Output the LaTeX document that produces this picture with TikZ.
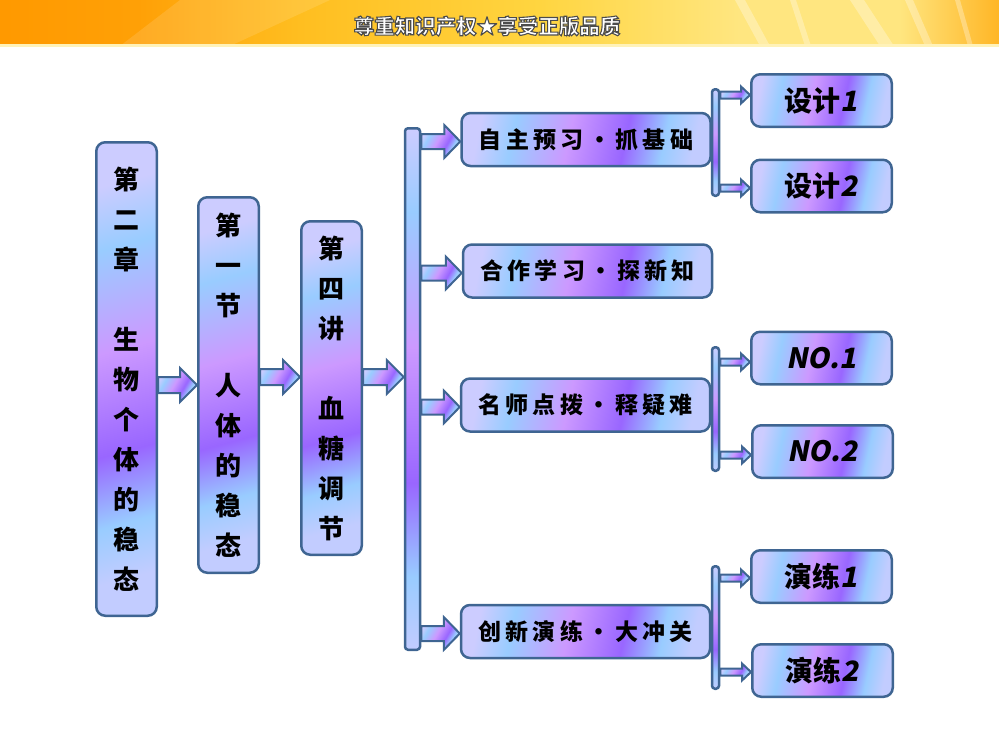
\documentclass[tikz,border=0pt]{standalone}
\usepackage{fontspec}
\usepackage{tikz}
\usetikzlibrary{calc}
\newfontfamily\cjk{Noto Sans CJK SC}
\newfontfamily\cjkwide{Noto Sans CJK SC}[LetterSpace=19]
\newfontfamily\cjkslant{Noto Sans CJK SC}[FakeSlant=0.2]
\definecolor{lav}{HTML}{CCCCFF}
\definecolor{skyb}{HTML}{99CCFF}
\definecolor{pinkv}{HTML}{CC99FF}
\definecolor{purp}{HTML}{9966FF}
\definecolor{edge}{HTML}{3F6592}
\definecolor{bannerA}{HTML}{FF9900}
\definecolor{bannerB}{HTML}{FFBE20}
\definecolor{bannerC}{HTML}{FFD540}
\definecolor{bannerD}{HTML}{FFE680}
\definecolor{bannerE}{HTML}{FFB626}
\definecolor{bannerline}{HTML}{FFF2B8}
\pgfdeclarehorizontalshading{boxshade}{100bp}{color(0bp)=(lav); color(25bp)=(lav); color(33bp)=(skyb); color(46bp)=(pinkv); color(59bp)=(purp); color(68bp)=(skyb); color(75bp)=(lav!80!skyb); color(100bp)=(lav!80!skyb)}
\pgfdeclarehorizontalshading{bannershade}{100bp}{color(0bp)=(bannerA); color(25bp)=(bannerA); color(32bp)=(bannerA!80!bannerB); color(40bp)=(bannerB); color(52bp)=(bannerC); color(62bp)=(bannerD); color(70bp)=(bannerD); color(75bp)=(bannerE); color(100bp)=(bannerE)}
% outlined text (fill + stroke)
\newcommand\outlined[1]{\special{pdf:literal direct 2 Tr 1.1 w 0.3 G}#1\special{pdf:literal direct 0 Tr}}

\tikzset{
  panel/.style={draw=edge, line width=2.5pt, rounded corners=9pt, shade, shading=boxshade, shading angle=-75, inner sep=0pt},
  tallbox/.style={panel, minimum width=60.5pt, align=center, font=\cjk\bfseries\fontsize{26}{40}\selectfont},
  midbox/.style={panel, shading angle=-12, minimum width=249pt, minimum height=53pt, font=\cjkwide\bfseries\fontsize{23}{25}\selectfont},
  leafbox/.style={panel, shading angle=-12, minimum width=140.5pt, minimum height=52.5pt, font=\cjk\bfseries\fontsize{28}{30}\selectfont},
  railbar/.style={draw=edge, line width=2.5pt, rounded corners=3pt, shade, shading=boxshade, shading angle=-90, inner sep=0pt},
  blockarr/.style={draw=edge, line width=2pt, shade, shading=boxshade, shading angle=-30, line join=miter},
}
% block arrow: start, end, half shaft, half head, head length
\newcommand\blockarrow[5]{%
  \path[blockarr] let \p1=#1, \p2=#2 in
    (\x1,\y1+#3) -- (\x2-#5,\y1+#3) -- (\x2-#5,\y1+#4) -- (\x2,\y1)
    -- (\x2-#5,\y1-#4) -- (\x2-#5,\y1-#3) -- (\x1,\y1-#3) -- cycle;}

\begin{document}
\begin{tikzpicture}[x=1pt,y=-1pt]
  \useasboundingbox (0,0) rectangle (999,750);
  % banner
  \shade[shading=bannershade] (0,0) rectangle (999,46);
  \fill[white,opacity=0.12] (180,0) -- (330,0) -- (230,46) -- (120,46) -- cycle;
  \foreach \a/\w/\b in {735/10/760, 790/6/805, 850/14/880, 905/8/925, 955/5/968}
    \fill[white,opacity=0.3] (\a,0) -- (\a+\w,0) -- (\b+\w,46) -- (\b,46) -- cycle;
  \fill[bannerline] (0,44) rectangle (999,47);
  \node[text=white, font=\cjk\bfseries\fontsize{20.5}{22}\selectfont] (banner) at (487,26)
    {\outlined{尊重知识产权★享受正版品质}};

  % chapter, section, lecture
  \node[tallbox, minimum height=473.5pt] (ch) at (126.5,379)
    {第\\二\\章\\[40pt]生\\物\\个\\体\\的\\稳\\态};
  \node[tallbox, minimum height=375.5pt] (sec) at (228.5,385)
    {第\\一\\节\\[40pt]人\\体\\的\\稳\\态};
  \node[tallbox, minimum height=333.5pt] (lec) at (331.5,388)
    {第\\四\\讲\\[40pt]血\\糖\\调\\节};
  \node[railbar, minimum width=15pt, minimum height=521.5pt] (spine) at (412.5,389) {};

  % parts
  \node[midbox] (mA) at (586,139.5) {自主预习・抓基础};
  \node[midbox] (mB) at (587.5,271) {合作学习・探新知};
  \node[midbox] (mC) at (585.5,405) {名师点拨・释疑难};
  \node[midbox] (mD) at (585.5,631.5) {创新演练・大冲关};
  \node[railbar, minimum width=7pt, minimum height=106.5pt] (tA) at (715.5,142.5) {};
  \node[railbar, minimum width=7pt, minimum height=123.5pt] (tC) at (715.5,409) {};
  \node[railbar, minimum width=7pt, minimum height=122.5pt] (tD) at (715.5,627.5) {};

  % leaves
  \node[leafbox] (l1) at (821.5,100.5) {设计{\cjkslant\bfseries 1}};
  \node[leafbox] (l2) at (821.5,186) {设计{\cjkslant\bfseries 2}};
  \node[leafbox] (l3) at (821.5,358) {\cjkslant\bfseries NO.1};
  \node[leafbox] (l4) at (822.5,451.5) {\cjkslant\bfseries NO.2};
  \node[leafbox] (l5) at (821.5,576.5) {演练{\cjkslant\bfseries 1}};
  \node[leafbox] (l6) at (822.5,670.5) {演练{\cjkslant\bfseries 2}};

  % arrows
  \blockarrow{([yshift=-6pt]ch.east)}{(sec.west)}{8pt}{17pt}{17pt}
  \blockarrow{([yshift=8pt]sec.east)}{(lec.west)}{8pt}{17pt}{17pt}
  \blockarrow{([yshift=11pt]lec.east)}{(spine.west)}{8pt}{17pt}{17pt}
  \foreach \m in {mA,mB,mC,mD}{
    \blockarrow{($(spine.east|-\m.west)+(0,2)$)}{(\m.west)}{7.5pt}{16.5pt}{16pt}
  }
  \foreach \b/\l/\s in {tA/l1/-5.5, tA/l2/2, tC/l3/4, tC/l4/3.5, tD/l5/1.5, tD/l6/1.5}{
    \blockarrow{($(\b.east|-\l.west)+(0,\s)$)}{(\l.west)}{3.5pt}{8.5pt}{9pt}
  }
\end{tikzpicture}
\end{document}
